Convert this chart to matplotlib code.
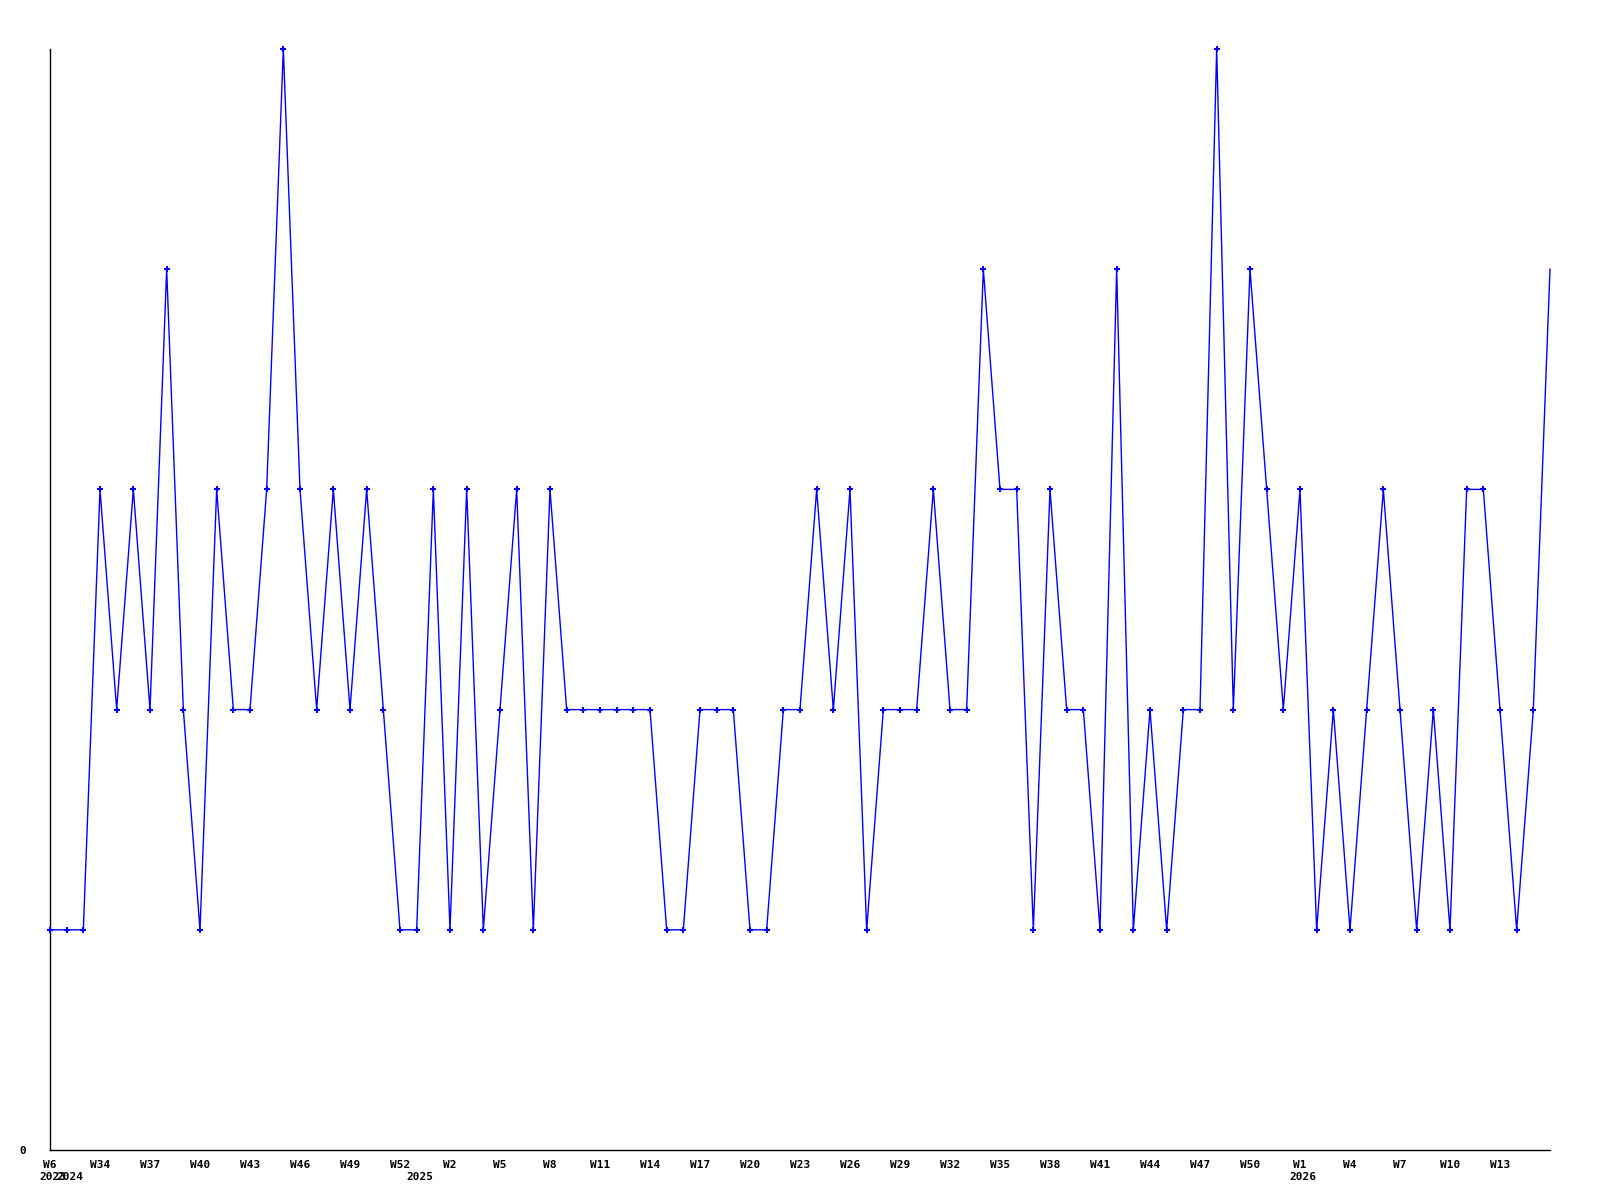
import matplotlib
matplotlib.use('Agg')
import matplotlib.pyplot as plt
import numpy as np

# weekly values, W31 2024 .. W16 2026
values = [1, 1, 1, 3, 2, 3, 2, 4, 2, 1,
          3, 2, 2, 3, 5, 3, 2, 3, 2, 3,
          2, 1, 1, 3, 1, 3, 1, 2, 3, 1,
          3, 2, 2, 2, 2, 2, 2, 1, 1, 2,
          2, 2, 1, 1, 2, 2, 3, 2, 3, 1,
          2, 2, 2, 3, 2, 2, 4, 3, 3, 1,
          3, 2, 2, 1, 4, 1, 2, 1, 2, 2,
          5, 2, 4, 3, 2, 3, 1, 2, 1, 2,
          3, 2, 1, 2, 1, 3, 3, 2, 1, 2,
          4]

tick_pos = [0, 3, 6, 9, 12, 15, 18, 21, 24, 27, 30, 33, 36, 39, 42, 45,
            48, 51, 54, 57, 60, 63, 66, 69, 72, 75, 78, 81, 84, 87]
tick_labels = ['W6', 'W34', 'W37', 'W40', 'W43', 'W46', 'W49', 'W52',
               'W2', 'W5', 'W8', 'W11', 'W14', 'W17', 'W20', 'W23', 'W26',
               'W29', 'W32', 'W35', 'W38', 'W41', 'W44', 'W47', 'W50',
               'W1', 'W4', 'W7', 'W10', 'W13']
year_pos = [0.2, 1.2, 22.2, 75.2]
year_labels = ['2023', '2024', '2025', '2026']

x = np.arange(len(values))

fig = plt.figure(figsize=(16, 12), dpi=100)
ax = fig.add_axes([50 / 1600, 50 / 1200, 1500 / 1600, 1101 / 1200])

ax.plot(x, values, color='#0000ff', linewidth=1.0,
        marker='+', markersize=5, markeredgewidth=1.5,
        markevery=list(range(len(values) - 1)), clip_on=False, zorder=3)

ax.set_xlim(0, len(values) - 1)
ax.set_ylim(0, 5)

for s in ['top', 'right']:
    ax.spines[s].set_visible(False)
for s in ['left', 'bottom']:
    ax.spines[s].set_color('black')
    ax.spines[s].set_linewidth(1.0)

font = dict(family='DejaVu Sans Mono', fontsize=8, fontweight='bold')

ax.set_yticks([0])
ax.set_yticklabels(['0'], **font)
ax.tick_params(axis='y', length=0, pad=17)

ax.set_xticks(tick_pos)
ax.set_xticklabels(tick_labels, **font)
ax.tick_params(axis='x', length=0, pad=7)

for p, lab in zip(year_pos, year_labels):
    ax.annotate(lab, (p, 0), xycoords=('data', 'axes fraction'),
                xytext=(0, -27), textcoords='offset pixels',
                ha='center', va='center', **font)

fig.savefig('out.png', dpi=100)
